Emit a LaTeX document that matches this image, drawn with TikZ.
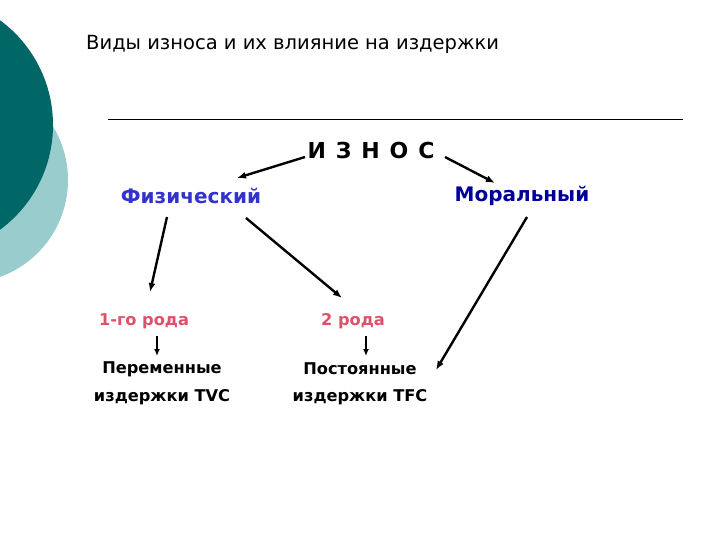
\documentclass[tikz,border=0pt]{standalone}
\usepackage{fontspec}
\usetikzlibrary{arrows.meta}
\setmainfont{DejaVu Sans}
\definecolor{darkteal}{HTML}{006666}
\definecolor{lightteal}{HTML}{99CCCC}
\definecolor{physblue}{HTML}{3333CC}
\definecolor{morblue}{HTML}{000099}
\definecolor{rodred}{HTML}{E0506A}
\begin{document}
\begin{tikzpicture}[x=1pt,y=-1pt,
  lbl/.style={inner sep=0pt,anchor=center,font=\bfseries\fontsize{16.2}{19}\selectfont},
  arr/.style={-{Latex[length=9pt,width=7pt]},line width=2.4pt}]
\useasboundingbox (0,0) rectangle (720,540);
\fill[white] (0,0) rectangle (720,540);
\begin{scope}
\clip (0,0) rectangle (720,540);
\fill[lightteal] (-35,180) circle (103);
\fill[darkteal] (-77,125) circle (130);
\end{scope}
\node[inner sep=0pt,anchor=west,font=\fontsize{19.5}{23}\selectfont] (title) at (86,44) {Виды износа и их влияние на издержки};
\draw[line width=1pt] (108,120) -- (683,120);
\node[lbl,font=\bfseries\fontsize{22}{26}\selectfont] (iznos) at (371,150) {И\hspace{0.45em}З\hspace{0.45em}Н\hspace{0.45em}О\hspace{0.45em}С};
\node[lbl,text=physblue,font=\bfseries\fontsize{20}{24}\selectfont] (phys) at (191,196) {Физический};
\node[lbl,text=morblue,font=\bfseries\fontsize{20}{24}\selectfont] (mor) at (522,196) {Моральный};
\node[lbl,text=rodred] (r1) at (144,321) {1-го рода};
\node[lbl,text=rodred] (r2) at (353,321) {2 рода};
\node[lbl] (v1) at (162,369) {Переменные};
\node[lbl] (v2) at (162,397) {издержки TVC};
\node[lbl] (f1) at (360,369) {Постоянные};
\node[lbl] (f2) at (360,397) {издержки TFC};
\coordinate (a1s) at (305,157); \coordinate (a1e) at (237,178);
\coordinate (a2s) at (445,157); \coordinate (a2e) at (495,183);
\coordinate (a3s) at (167,217); \coordinate (a3e) at (150,292);
\coordinate (a4s) at (246,218); \coordinate (a4e) at (342,298);
\coordinate (a5s) at (527,217); \coordinate (a5e) at (436,370);
\draw[arr] (a1s) -- (a1e);
\draw[arr] (a2s) -- (a2e);
\draw[arr] (a3s) -- (a3e);
\draw[arr] (a4s) -- (a4e);
\draw[arr] (a5s) -- (a5e);
\draw[arr,line width=1.6pt,-{Latex[length=7pt,width=6pt]}] (157,336) -- (157,356);
\draw[arr,line width=1.6pt,-{Latex[length=7pt,width=6pt]}] (366,336) -- (366,356);
\end{tikzpicture}
\end{document}
